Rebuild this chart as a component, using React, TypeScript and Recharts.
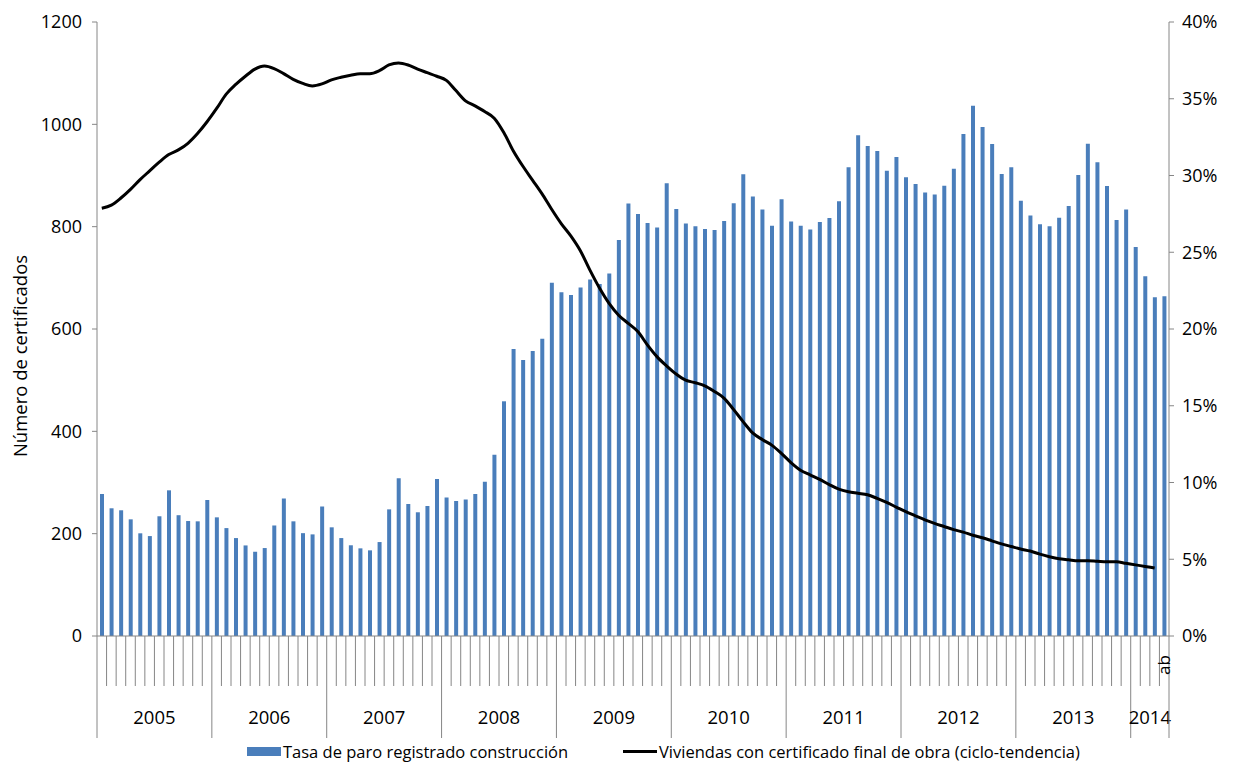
import { ComposedChart, Bar, Line, XAxis, YAxis, Legend } from "recharts";

const years = ["2005", "2006", "2007", "2008", "2009", "2010", "2011", "2012", "2013", "2014"];
const monthsPerYear = [12, 12, 12, 12, 12, 12, 12, 12, 12, 4];
const lastMonthLabel = "ab";

// Tasa de paro registrado construcción (%), one per month
const paro = [
  9.25, 8.32, 8.19, 7.6, 6.69, 6.51, 7.8, 9.49, 7.87, 7.49, 7.47, 8.86,
  7.73, 7.03, 6.38, 5.9, 5.49, 5.73, 7.2, 8.95, 7.47, 6.7, 6.62, 8.43,
  7.08, 6.38, 5.91, 5.71, 5.58, 6.12, 8.25, 10.27, 8.6, 8.06, 8.47, 10.23,
  9.03, 8.79, 8.9, 9.25, 10.05, 11.81, 15.29, 18.7, 17.98, 18.57, 19.37, 23.02,
  22.39, 22.21, 22.71, 23.23, 22.93, 23.62, 25.8, 28.18, 27.49, 26.9, 26.62, 29.49,
  27.82, 26.88, 26.7, 26.51, 26.45, 27.03, 28.2, 30.08, 28.64, 27.79, 26.73, 28.45,
  27.01, 26.73, 26.49, 26.97, 27.23, 28.33, 30.53, 32.63, 31.92, 31.59, 30.31, 31.2,
  29.88, 29.44, 28.9, 28.77, 29.33, 30.44, 32.7, 34.55, 33.16, 32.05, 30.1, 30.53,
  28.36, 27.4, 26.82, 26.69, 27.25, 28.01, 30.03, 32.07, 30.86, 29.31, 27.1, 27.79,
  25.34, 23.43, 22.07, 22.13,
];

// Viviendas con certificado final de obra (ciclo-tendencia)
const viviendas = [
  836, 842, 856, 873, 892, 909, 926, 941, 950, 963, 982, 1005,
  1031, 1059, 1078, 1094, 1108, 1114, 1109, 1099, 1088, 1080, 1075, 1079,
  1087, 1092, 1096, 1099, 1099, 1105, 1116, 1120, 1116, 1108, 1101, 1094,
  1086, 1066, 1046, 1036, 1025, 1012, 984, 948, 918, 891, 864, 834,
  806, 782, 753, 715, 680, 650, 627, 611, 595, 569, 546, 528,
  512, 500, 495, 489, 478, 465, 443, 419, 397, 384, 373, 357,
  339, 324, 315, 306, 296, 287, 282, 279, 276, 269, 261, 252,
  243, 235, 227, 220, 214, 208, 203, 197, 192, 186, 180, 175,
  170, 166, 160, 155, 151, 149, 147, 147, 146, 145, 145, 142,
  139, 136, 133, null,
];

const leftTicks = [0, 200, 400, 600, 800, 1000, 1200];
const rightTicks = [0, 5, 10, 15, 20, 25, 30, 35, 40];

const W = 1233;
const H = 763;
const LEFT_W = 97;
const RIGHT_W = 64;
const TOP = 22;
const X_AXIS_H = 102;
const LEGEND_H = 25;
const FONT = "'Open Sans', Lato, sans-serif";
const AXIS = "#868686";
const BLUE = "#4A7EBB";

const data: any[] = [];
years.forEach((y, yi) => {
  for (let k = 0; k < monthsPerYear[yi]; k++) {
    data.push({ m: `${y}-${k + 1}`, year: y, k, nInYear: monthsPerYear[yi] });
  }
});
data.forEach((d, i) => {
  d.paro = paro[i];
  d.viv = viviendas[i];
});

const BAND = (W - LEFT_W - RIGHT_W) / data.length;

function MonthTick(props: any) {
  const { x, y, payload } = props;
  const i = payload.index;
  const d = data[i];
  if (!d) return null;
  const xl = x - BAND / 2;
  const isLast = i === data.length - 1;
  return (
    <g>
      <line x1={xl} x2={xl} y1={y} y2={y + (d.k === 0 ? X_AXIS_H : 50)} stroke={AXIS} strokeWidth={1} />
      {d.k === 0 && (
        <text x={xl + (d.nInYear / 2) * BAND} y={y + 88} textAnchor="middle" fontSize={18.5} fontFamily={FONT} fill="#000">
          {d.year}
        </text>
      )}
      {isLast && (
        <>
          <line x1={x + BAND / 2} x2={x + BAND / 2} y1={y} y2={y + X_AXIS_H} stroke={AXIS} strokeWidth={1} />
          <text
            x={x + 6}
            y={y + 29}
            transform={`rotate(-90, ${x + 6}, ${y + 29})`}
            textAnchor="middle"
            fontSize={17}
            fontFamily={FONT}
            fill="#000"
          >
            {lastMonthLabel}
          </text>
        </>
      )}
    </g>
  );
}

function LegendBox() {
  return (
    <div style={{ position: "relative", height: LEGEND_H, fontFamily: FONT, fontSize: 16.5, color: "#000" }}>
      <div style={{ position: "absolute", left: 247, top: 2, display: "flex", alignItems: "center", whiteSpace: "nowrap" }}>
        <span style={{ display: "inline-block", width: 34, height: 9, background: BLUE, marginRight: 2 }} />
        <span>Tasa de paro registrado construcción</span>
      </div>
      <div style={{ position: "absolute", left: 623, top: 2, display: "flex", alignItems: "center", whiteSpace: "nowrap" }}>
        <span style={{ display: "inline-block", width: 34, height: 3, background: "#000", marginRight: 2 }} />
        <span>Viviendas con certificado final de obra (ciclo-tendencia)</span>
      </div>
    </div>
  );
}

export default function App() {
  return (
    <div style={{ position: "absolute", left: 0, top: 0, width: W, height: H, background: "#fff" }}>
      <ComposedChart width={W} height={H} data={data} margin={{ top: TOP, right: 0, left: 0, bottom: 0 }}>
        <XAxis
          dataKey="m"
          interval={0}
          height={X_AXIS_H}
          tickLine={false}
          tickSize={0}
          tickMargin={0}
          axisLine={{ stroke: AXIS }}
          tick={<MonthTick />}
        />
        <YAxis
          yAxisId="left"
          width={LEFT_W}
          domain={[0, 1200]}
          ticks={leftTicks}
          interval={0}
          tickSize={5}
          tickMargin={10}
          axisLine={{ stroke: AXIS }}
          tickLine={{ stroke: AXIS }}
          tick={{ fontSize: 18, fontFamily: FONT, fill: "#000" }}
          label={(p: any) => {
            const vb = p.viewBox;
            const cx = vb.x + 19;
            const cy = vb.y + vb.height / 2 + 27;
            return (
              <text x={cx} y={cy} transform={`rotate(-90, ${cx}, ${cy})`} textAnchor="middle" dominantBaseline="central" fontSize={18.5} fontFamily={FONT} fill="#000">
                Número de certificados
              </text>
            );
          }}
        />
        <YAxis
          yAxisId="right"
          orientation="right"
          width={RIGHT_W}
          domain={[0, 40]}
          ticks={rightTicks}
          interval={0}
          tickSize={5}
          tickMargin={8}
          tickFormatter={(v: number) => `${v}%`}
          axisLine={{ stroke: AXIS }}
          tickLine={{ stroke: AXIS }}
          tick={{ fontSize: 18, fontFamily: FONT, fill: "#000", textAnchor: "start" }}
        />
        <Bar yAxisId="right" dataKey="paro" fill={BLUE} barSize={4} isAnimationActive={false} />
        <Line
          yAxisId="left"
          dataKey="viv"
          type="monotone"
          stroke="#000"
          strokeWidth={3}
          dot={false}
          activeDot={false}
          isAnimationActive={false}
        />
        <Legend verticalAlign="bottom" height={LEGEND_H} wrapperStyle={{ left: 0, width: W }} content={() => <LegendBox />} />
      </ComposedChart>
    </div>
  );
}
